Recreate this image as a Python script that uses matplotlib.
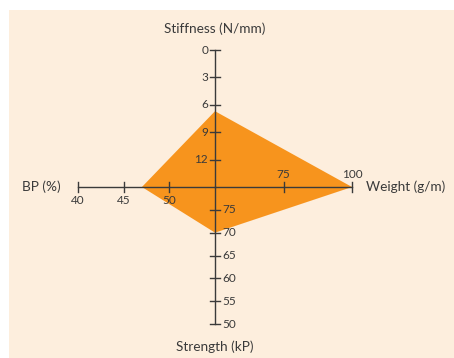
import numpy as np
import matplotlib
matplotlib.use("Agg")
import matplotlib.pyplot as plt
from matplotlib.patches import Rectangle, Polygon

# axis definitions (top, right, bottom, left)
axis_names = ["Stiffness (N/mm)", "Weight (g/m)", "Strength (kP)", "BP (%)"]
center_vals = [15, 50, 80, 55]      # value at the middle of the cross
end_vals = [0, 100, 50, 40]         # value at the outer end of each arm
axis_ticks = [
    [0, 3, 6, 9, 12],
    [75, 100],
    [75, 70, 65, 60, 55, 50],
    [40, 45, 50],
]
sample_vals = [6.7, 100, 70, 47]

BG = "#fdeedd"
FILL = "#f7941d"
INK = "#3a3a3a"
plt.rcParams['font.family'] = ['Lato', 'DejaVu Sans']

fig = plt.figure(figsize=(4.54, 3.58), dpi=100)
ax = fig.add_axes([0, 0, 1, 1])
ax.set_xlim(0, 454)
ax.set_ylim(358, 0)
ax.axis('off')

ax.add_patch(Rectangle((9, 10), 445, 348, facecolor=BG, edgecolor='none', zorder=0))

cx, cy = 215, 187          # cross centre
L = 137                    # arm length
dirs = [(0, -1), (1, 0), (0, 1), (-1, 0)]


def to_xy(i, v):
    r = (v - center_vals[i]) / (end_vals[i] - center_vals[i])
    dx, dy = dirs[i]
    return cx + dx * r * L, cy + dy * r * L


# orange profile
pts = [to_xy(i, v) for i, v in enumerate(sample_vals)]
ax.add_patch(Polygon(pts, closed=True, facecolor=FILL, edgecolor='none', zorder=1))

# arms + ticks
for i in range(4):
    x1, y1 = to_xy(i, end_vals[i])
    ax.plot([cx, x1], [cy, y1], color=INK, lw=1, zorder=2)
    dx, dy = dirs[i]
    for t in axis_ticks[i]:
        tx, ty = to_xy(i, t)
        px, py = dy * 5, dx * 5
        ax.plot([tx - px, tx + px], [ty - py, ty + py], color=INK, lw=1, zorder=2)
        lab = str(t)
        if i == 0:
            ax.text(tx - 7, ty, lab, ha='right', va='center', fontsize=8.5, color=INK)
        elif i == 1:
            ax.text(tx, ty - 13, lab, ha='center', va='center', fontsize=8.5, color=INK)
        elif i == 2:
            ax.text(tx + 7, ty, lab, ha='left', va='center', fontsize=8.5, color=INK)
        else:
            ax.text(tx, ty + 14, lab, ha='center', va='center', fontsize=8.5, color=INK)

ax.text(cx, 29, axis_names[0], ha='center', va='center', fontsize=9.8, color=INK)
ax.text(366, cy, axis_names[1], ha='left', va='center', fontsize=9.8, color=INK)
ax.text(cx, 347, axis_names[2], ha='center', va='center', fontsize=9.8, color=INK)
ax.text(61, cy, axis_names[3], ha='right', va='center', fontsize=9.8, color=INK)

fig.savefig("out.png", dpi=100, facecolor='white')
